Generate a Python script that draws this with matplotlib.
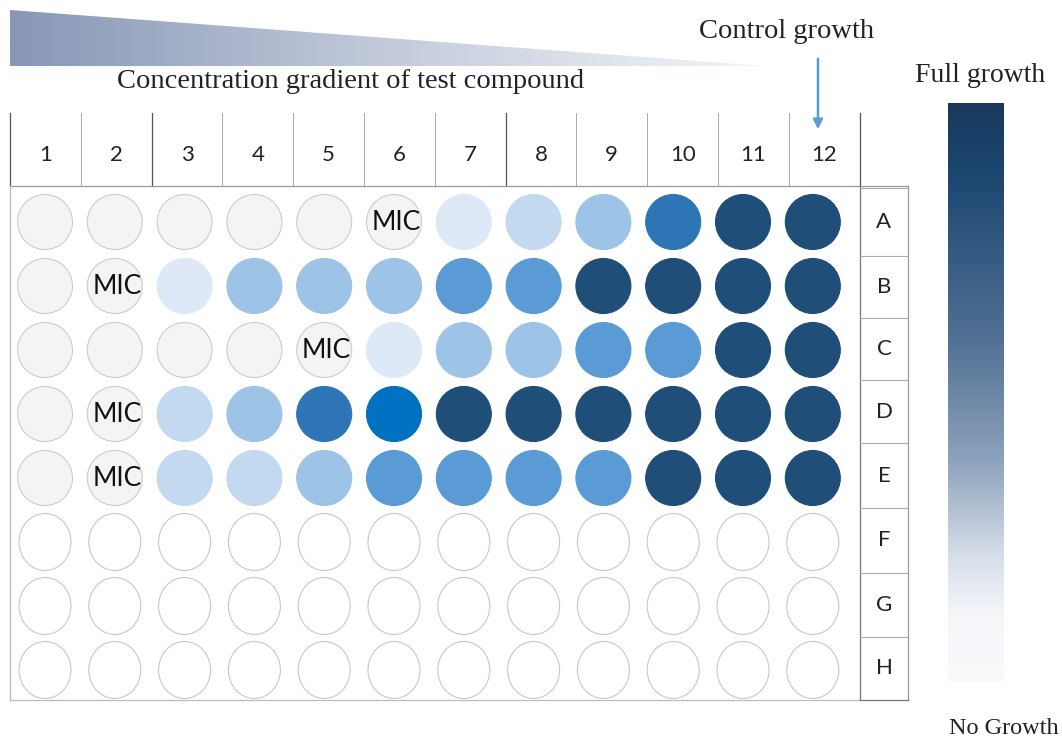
import numpy as np
import matplotlib
matplotlib.use("Agg")
import matplotlib.pyplot as plt
from matplotlib.patches import Circle, Ellipse, Polygon
from matplotlib.colors import LinearSegmentedColormap

# plaque 96 puits : niveau de croissance par puits (0 = vide, 1 = pas de croissance)
colonnes = [str(i) for i in range(1, 13)]
lignes = ["A", "B", "C", "D", "E", "F", "G", "H"]
ligne_A = [1, 1, 1, 1, 1, 1, 2, 3, 4, 6, 8, 8]
ligne_B = [1, 1, 2, 4, 4, 4, 5, 5, 8, 8, 8, 8]
ligne_C = [1, 1, 1, 1, 1, 2, 4, 4, 5, 5, 8, 8]
ligne_D = [1, 1, 3, 4, 6, 7, 8, 8, 8, 8, 8, 8]
ligne_E = [1, 1, 3, 3, 4, 5, 5, 5, 5, 8, 8, 8]
ligne_F = [0] * 12
ligne_G = [0] * 12
ligne_H = [0] * 12
plaque = [ligne_A, ligne_B, ligne_C, ligne_D, ligne_E, ligne_F, ligne_G, ligne_H]
# colonne de la CMI pour chaque ligne
cmi = {"A": 6, "B": 2, "C": 5, "D": 2, "E": 2}

couleurs = {1: "#f4f4f4", 2: "#dde9f6", 3: "#c3d9ef", 4: "#9dc3e6",
            5: "#5b9bd5", 6: "#2e75b6", 7: "#0070c0", 8: "#1f4e79"}

fig = plt.figure(figsize=(10.62, 7.47), dpi=100)
ax = fig.add_axes([0, 0, 1, 1])
ax.set_xlim(0, 1062)
ax.set_ylim(747, 0)
ax.axis("off")

sans = ["Lato", "DejaVu Sans"]
serif = ["Liberation Serif", "DejaVu Serif"]

# triangle du gradient de concentration
grad = np.linspace(0, 1, 256).reshape(1, -1)
cmap_tri = LinearSegmentedColormap.from_list("tri", ["#8797b6", "#c3cbdb", "#f3f5f8"])
im = ax.imshow(grad, extent=[10, 765, 66, 10], cmap=cmap_tri, aspect="auto", zorder=1)
tri = Polygon([[10, 10], [765, 66], [10, 66]], closed=True, facecolor="none", edgecolor="none")
ax.add_patch(tri)
im.set_clip_path(tri)
ax.text(351, 82, "Concentration gradient of test compound", ha="center", va="center",
        fontsize=20.5, family=serif, color="#222222")

# fleche du temoin
ax.text(787, 32, "Control growth", ha="center", va="center", fontsize=20.5, family=serif, color="#222222")
ax.annotate("", xy=(818, 132), xytext=(818, 56),
            arrowprops=dict(arrowstyle="-|>", color="#5b9bd5", lw=1.8, mutation_scale=14))

# entete des colonnes
x0, larg = 10, 70.8
for i, c in enumerate(colonnes):
    ax.text(x0 + larg * (i + 0.5), 155, c, ha="center", va="center", fontsize=16, family=sans, color="#222222")
for i in range(13):
    fonce = i in (0, 2, 7, 12)
    ax.plot([x0 + larg * i] * 2, [113, 186], color="#555555" if fonce else "#aaaaaa", lw=0.9 if fonce else 0.7)
ax.plot([10, 908], [186, 186], color="#999999", lw=0.9)

# cadre de la plaque
ax.plot([10, 10], [186, 700], color="#bbbbbb", lw=0.9)
ax.plot([10, 860], [700, 700], color="#bbbbbb", lw=0.9)
ax.plot([860, 860], [186, 700], color="#777777", lw=0.9)
ax.plot([908, 908], [186, 700], color="#999999", lw=0.9)
ax.plot([860, 908], [700, 700], color="#777777", lw=0.9)
limites = [188, 256, 318, 380, 443, 508, 573, 637, 700]
for j, l in enumerate(lignes):
    ax.plot([860, 908], [limites[j], limites[j]], color="#aaaaaa", lw=0.8)
    ax.text(884, (limites[j] + limites[j + 1]) / 2, l, ha="center", va="center",
            fontsize=16, family=sans, color="#222222")

# puits
pas_x, pas_y = 69.8, 64
for j, l in enumerate(lignes):
    cy = 222 + pas_y * j
    for i, niveau in enumerate(plaque[j]):
        cx = 45 + pas_x * i
        if niveau == 0:
            ax.add_patch(Ellipse((cx, cy), 52, 57, facecolor="white", edgecolor="#c8c8c8", lw=0.8))
        else:
            ec = "#cccccc" if niveau == 1 else couleurs[niveau]
            ax.add_patch(Circle((cx, cy), 27.5, facecolor=couleurs[niveau], edgecolor=ec, lw=0.8))
    if l in cmi:
        cx = 45 + pas_x * (cmi[l] - 1)
        ax.text(cx + 2, cy + 1, "MIC", ha="center", va="center", fontsize=19, family=sans, color="#111111")

# barre de croissance
vert = np.linspace(0, 1, 256).reshape(-1, 1)
cmap_bar = LinearSegmentedColormap.from_list(
    "bar", [(0, "#19395c"), (0.12, "#1b4670"), (0.4, "#4f6f93"), (0.62, "#8ea3bd"),
            (0.78, "#d5dde8"), (0.88, "#f4f6f9"), (1, "#f9fafc")])
ax.imshow(vert, extent=[948, 1004, 682, 103], cmap=cmap_bar, aspect="auto", zorder=1)
ax.text(980, 75, "Full growth", ha="center", va="center", fontsize=20, family=serif, color="#222222")
ax.text(1004, 728, "No Growth", ha="center", va="center", fontsize=17.5, family=serif, color="#222222")

fig.savefig("out.png", dpi=100)
